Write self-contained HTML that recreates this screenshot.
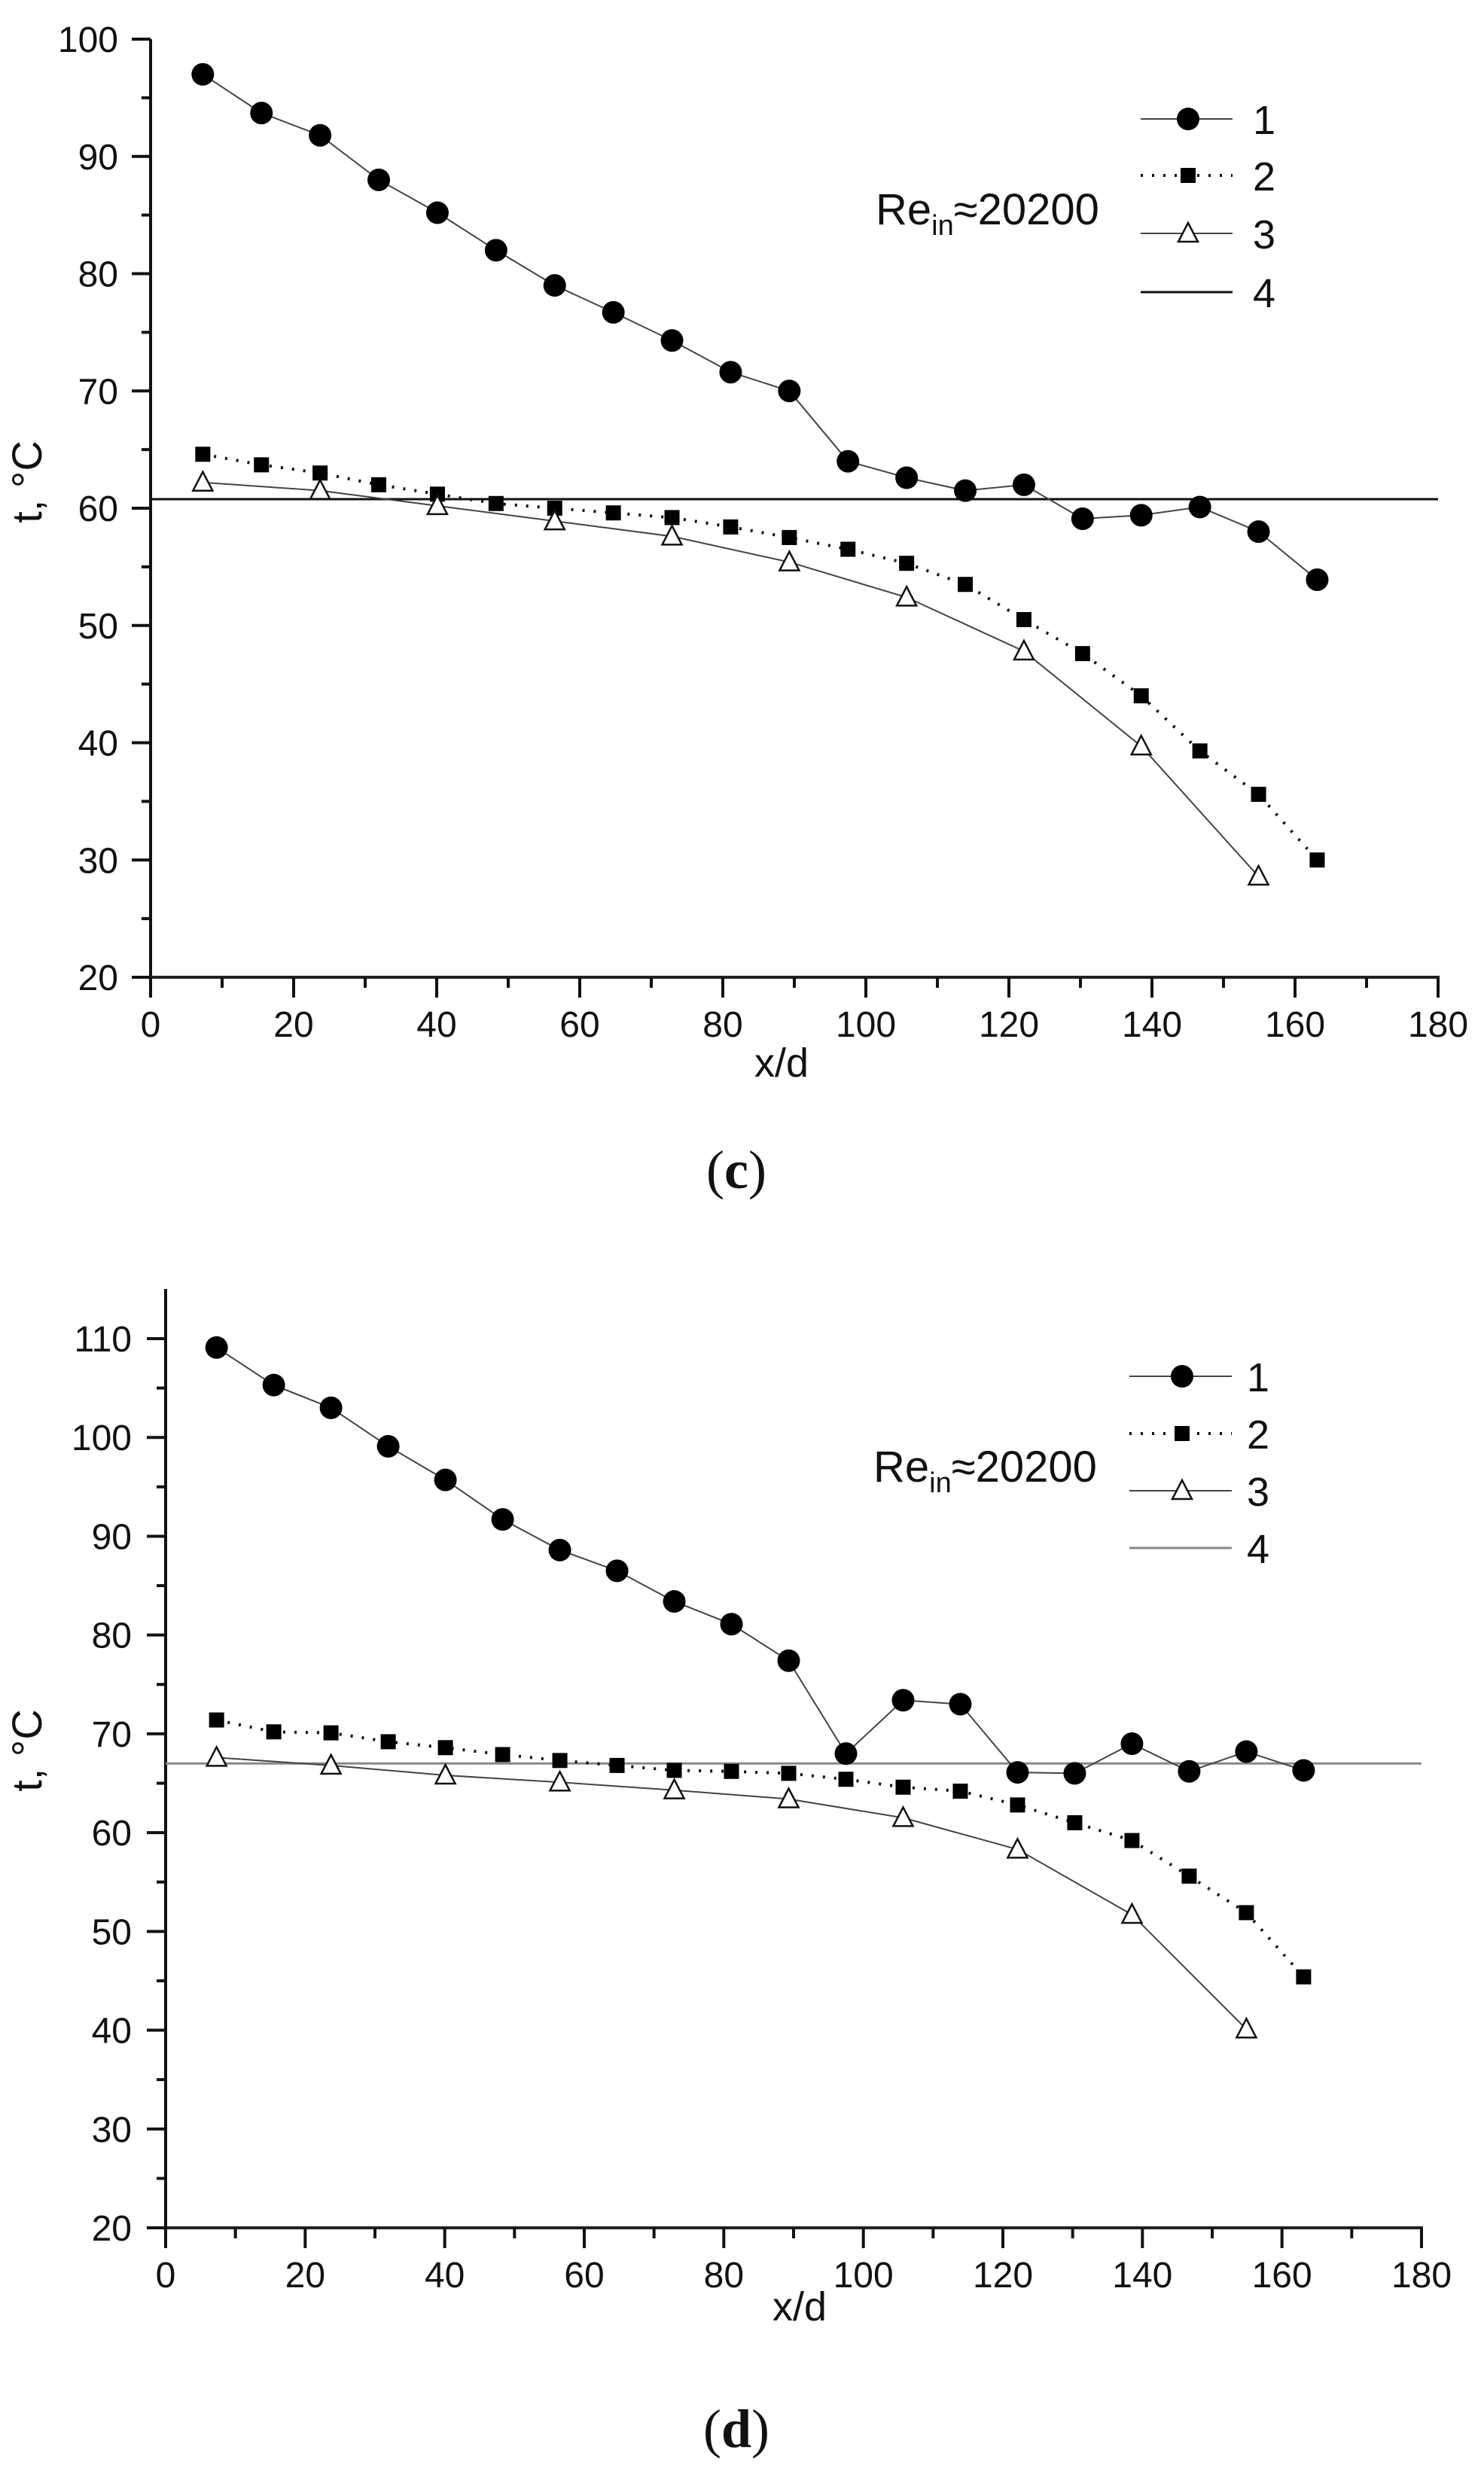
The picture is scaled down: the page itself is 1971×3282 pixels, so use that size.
<!DOCTYPE html>
<html><head><meta charset="utf-8"><style>
html,body{margin:0;padding:0;background:#fff;}
svg{display:block;font-family:"Liberation Sans",Arial,sans-serif;}
</style></head><body>
<svg id="s" width="1971" height="3282" viewBox="0 0 1971 3282" xmlns="http://www.w3.org/2000/svg"></svg>
<script>
const NS="http://www.w3.org/2000/svg";const S=document.getElementById('s');
function el(t,a,txt){const e=document.createElementNS(NS,t);for(const k in a)e.setAttribute(k,a[k]);if(txt!==undefined)e.textContent=txt;S.appendChild(e);return e;}
const xs=[7.3,15.5,23.7,31.9,40.1,48.3,56.5,64.7,72.9,81.1,89.3,97.5,105.7,113.9,122.1,130.3,138.5,146.7,154.9,163.1];
const xs3=[7.3,23.7,40.1,56.5,72.9,89.3,105.7,122.1,138.5,154.9];
function chart(c){
 const X=v=>c.x0+v*(c.x1-c.x0)/180, Y=v=>c.yb+(v-c.ymin)*(c.yt-c.yb)/(c.ymax-c.ymin);
 const top=c.axTop;
 el('line',{x1:c.x0,y1:top,x2:c.x0,y2:c.yb+2,stroke:'#111','stroke-width':4});
 el('line',{x1:c.x0-25,y1:c.yb,x2:c.x1+2,y2:c.yb,stroke:'#222','stroke-width':4});
 if(c.topTick) el('line',{x1:c.x0-25,y1:top,x2:c.x0,y2:top,stroke:'#111','stroke-width':4});
 for(let v=c.ymin;v<=c.ymax;v+=5){const y=Y(v);const maj=(v%10===0);
  el('line',{x1:c.x0-(maj?25:12),y1:y,x2:c.x0,y2:y,stroke:'#111','stroke-width':4});
  if(maj) el('text',{x:c.lx,y:y+17,'text-anchor':'end','font-size':48,fill:'#111'},v);}
 for(let v=0;v<=180;v+=10){const x=X(v);const maj=(v%20===0);
  el('line',{x1:x,y1:c.yb,x2:x,y2:c.yb+(maj?27:14),stroke:'#111','stroke-width':4});
  if(maj) el('text',{x:x,y:c.xly,'text-anchor':'middle','font-size':48,fill:'#111'},v);}
 el('line',{x1:c.x0,y1:Y(c.h),x2:c.x1,y2:Y(c.h),stroke:c.hc,'stroke-width':3});
 const p=(arr,xx)=>arr.map((v,i)=>X(xx[i]).toFixed(1)+','+Y(v).toFixed(1)).join(' ');
 el('polyline',{points:p(c.s3,xs3),fill:'none',stroke:'#444','stroke-width':2});
 el('polyline',{points:p(c.s2,xs),fill:'none',stroke:'#111','stroke-width':4,'stroke-dasharray':'3 12'});
 el('polyline',{points:p(c.s1,xs),fill:'none',stroke:'#444','stroke-width':2});
 c.s1.forEach((v,i)=>el('circle',{cx:X(xs[i]),cy:Y(v),r:15,fill:'#000'}));
 c.s2.forEach((v,i)=>el('rect',{x:X(xs[i])-10,y:Y(v)-10,width:20,height:20,fill:'#000'}));
 c.s3.forEach((v,i)=>{const x=X(xs3[i]),y=Y(v);el('polygon',{points:`${x},${y-14} ${x-13},${y+11} ${x+13},${y+11}`,fill:'#fff',stroke:'#111','stroke-width':2.5});});
 const L=c.leg;const r=L.rows;
 el('line',{x1:L.x1,y1:r[0],x2:L.x2,y2:r[0],stroke:'#444','stroke-width':2});el('circle',{cx:L.m,cy:r[0],r:15,fill:'#000'});
 el('line',{x1:L.x1,y1:r[1],x2:L.x2,y2:r[1],stroke:'#111','stroke-width':4,'stroke-dasharray':'3 12'});el('rect',{x:L.m-10,y:r[1]-10,width:20,height:20,fill:'#000'});
 el('line',{x1:L.x1,y1:r[2],x2:L.x2,y2:r[2],stroke:'#444','stroke-width':2});el('polygon',{points:`${L.m},${r[2]-14} ${L.m-13},${r[2]+11} ${L.m+13},${r[2]+11}`,fill:'#fff',stroke:'#111','stroke-width':2.5});
 el('line',{x1:L.x1,y1:r[3],x2:L.x2,y2:r[3],stroke:c.hc,'stroke-width':3});
 for(let i=0;i<4;i++) el('text',{x:L.x2+L.g,y:r[i]+20,'font-size':54,fill:'#111'},i+1);
 const t=el('text',{x:c.re[0],y:c.re[1],'font-size':58,fill:'#111'});
 t.innerHTML='Re<tspan font-size="38" dy="14">in</tspan><tspan dy="-14">≈20200</tspan>';
 el('text',{x:c.xl[0],y:c.xl[1],'text-anchor':'middle','font-size':54,fill:'#111'},'x/d');
 el('text',{x:0,y:0,'text-anchor':'middle','font-size':56,fill:'#111',transform:`translate(${c.yl[0]},${c.yl[1]}) rotate(-90)`},'t, °C');
 el('text',{x:c.cap[0],y:c.cap[1],'text-anchor':'middle','font-size':72,'font-family':'Liberation Serif,serif',fill:'#111'}).innerHTML='(<tspan font-weight="bold">'+c.cap[2]+'</tspan>)';
}
chart({x0:200,x1:1910,yb:1298,yt:52,ymin:20,ymax:100,axTop:52,topTick:true,lx:157,xly:1377,h:60.77,hc:'#111',
 s1:[97,93.7,91.8,88,85.2,82,79,76.7,74.3,71.6,70,64,62.6,61.5,62,59.1,59.4,60.1,58,53.9],
 s2:[64.6,63.7,63,62,61.2,60.4,60,59.6,59.2,58.4,57.5,56.5,55.3,53.5,50.5,47.6,44,39.3,35.6,30],
 s3:[62.2,61.5,60.2,58.9,57.6,55.4,52.4,47.8,39.7,28.6],
 leg:{x1:1515,x2:1637,m:1578,g:27,rows:[158,233,310,388]},re:[1163,298],xl:[1038,1430],yl:[55,640],cap:[978,1578,'c']});
chart({x0:220,x1:1888,yb:2959,yt:1778,ymin:20,ymax:110,axTop:1712,topTick:false,lx:175,xly:3038,h:67.0,hc:'#888',
 s1:[109.1,105.3,103,99.1,95.7,91.7,88.6,86.5,83.4,81.1,77.4,68,73.4,73,66.1,66,69,66.2,68.2,66.3],
 s2:[71.4,70.2,70.1,69.2,68.6,67.9,67.3,66.8,66.3,66.2,66,65.4,64.6,64.2,62.8,61,59.2,55.6,51.9,45.4],
 s3:[67.6,66.8,65.8,65.1,64.3,63.4,61.5,58.3,51.7,40.1],
 leg:{x1:1500,x2:1636,m:1570,g:20,rows:[1828,1904,1980,2056]},re:[1160,1968],xl:[1062,3082],yl:[55,2325],cap:[978,3250,'d']});
</script>
</body></html>
